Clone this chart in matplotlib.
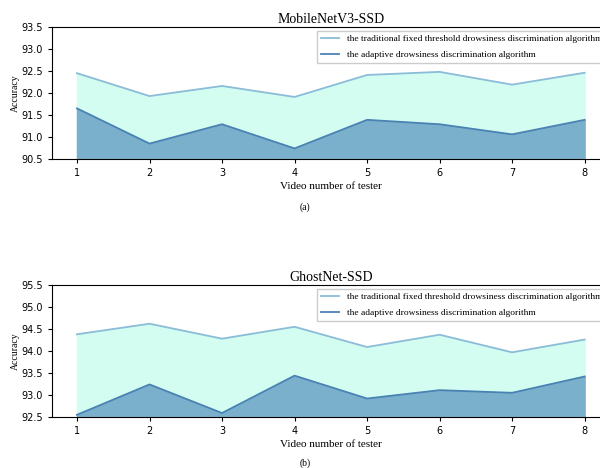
import matplotlib
matplotlib.use("Agg")
import matplotlib.pyplot as plt

testers = [1, 2, 3, 4, 5, 6, 7, 8]
mob_traditional = [92.45, 91.93, 92.16, 91.91, 92.41, 92.48, 92.19, 92.46]
mob_adaptive = [91.65, 90.85, 91.29, 90.74, 91.39, 91.29, 91.06, 91.39]
gho_traditional = [94.38, 94.62, 94.28, 94.55, 94.09, 94.37, 93.97, 94.26]
gho_adaptive = [92.55, 93.24, 92.59, 93.44, 92.92, 93.11, 93.05, 93.42]
titles = ["MobileNetV3-SSD", "GhostNet-SSD"]
captions = ["(a)", "(b)"]
ylims = [(90.5, 93.5), (92.5, 95.5)]
lab_trad = "the traditional fixed threshold drowsiness discrimination algorithm"
lab_adap = "the adaptive drowsiness discrimination algorithm"

serif = "Liberation Serif"
W, H = 600, 468
fig = plt.figure(figsize=(6, 4.68), dpi=100)

# axes boxes in pixels: left, top, right, bottom
boxes = [(51.6, 27, 610, 159), (51.6, 285, 610, 417)]
series = [(mob_traditional, mob_adaptive), (gho_traditional, gho_adaptive)]
cap_y = [207, 463]

for i in range(2):
    l, t, r, b = boxes[i]
    ax = fig.add_axes([l / W, 1 - b / H, (r - l) / W, (b - t) / H])
    trad, adap = series[i]
    lo, hi = ylims[i]
    ax.fill_between(testers, lo, trad, color="#d2fdf0", zorder=1)
    ax.fill_between(testers, lo, adap, color="#7bb0cc", zorder=2)
    ax.plot(testers, trad, color="#8bbcd8", lw=1.3, label=lab_trad, zorder=3)
    ax.plot(testers, adap, color="#4a82b4", lw=1.3, label=lab_adap, zorder=3)
    ax.set_ylim(lo, hi)
    ax.set_yticks([lo + 0.5 * k for k in range(7)])
    ax.set_xticks(testers)
    ax.tick_params(labelsize=7, length=3, width=0.8)
    ax.set_title(titles[i], fontfamily=serif, fontsize=10, pad=3)
    ax.set_xlabel("Video number of tester", fontfamily=serif, fontsize=8, labelpad=3)
    ax.set_ylabel("Accuracy", fontfamily=serif, fontsize=7, labelpad=1)
    for s in ax.spines.values():
        s.set_linewidth(0.8)
    ax.legend(loc="upper right", prop={"family": serif, "size": 6.8},
              framealpha=1, fancybox=False, edgecolor="#cccccc",
              handlelength=2.0, borderaxespad=0.4, labelspacing=0.75)
    fig.text(305 / W, 1 - cap_y[i] / H, captions[i], ha="center", va="center",
             fontfamily=serif, fontsize=7)

fig.savefig("out.png", dpi=100)
